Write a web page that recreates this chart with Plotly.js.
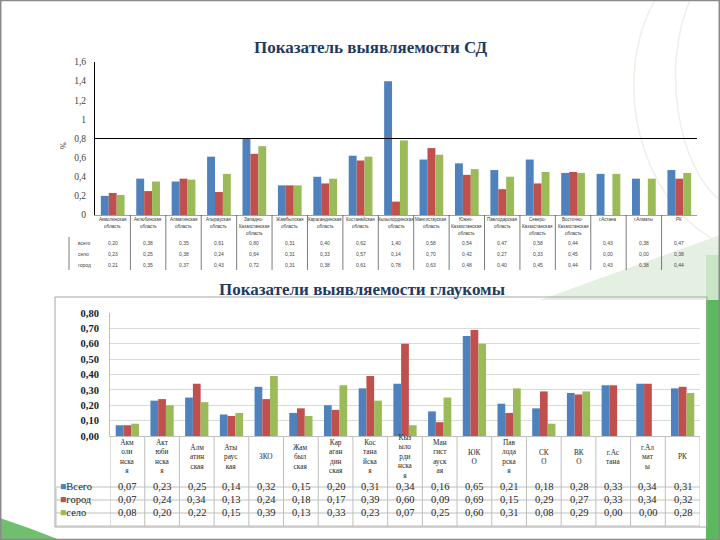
<!DOCTYPE html>
<html><head><meta charset="utf-8">
<script src="https://cdn.plot.ly/plotly-3.0.1.min.js"></script>
<style>html,body{margin:0;padding:0;background:#fff}#chart{width:720px;height:540px}</style>
</head><body><div id="chart"></div>
<script>
// ---------- Chart 1: Показатель выявляемости СД ----------
const sdTitle = 'Показатель выявляемости СД';
const sdCategories = ['Акмолинская область','Актюбинская область','Алматинская область','Атырауская область',
  'Западно-Казахстанская область','Жамбылская область','Карагандинская область','Костанайская область',
  'Кызылординская область','Мангистауская область','Южно-Казахстанская область','Павлодарская область',
  'Северо-Казахстанская область','Восточно-Казахстанская область','г.Астана','г.Алматы','РК'];
const sdLabelLines = [['Акмолинская','область'],['Актюбинская','область'],['Алматинская','область'],['Атырауская','область'],
  ['Западно-','Казахстанская','область'],['Жамбылская','область'],['Карагандинская','область'],['Костанайская','область'],
  ['Кызылординская','область'],['Мангистауская','область'],['Южно-','Казахстанская','область'],['Павлодарская','область'],
  ['Северо-','Казахстанская','область'],['Восточно-','Казахстанская','область'],['г.Астана'],['г.Алматы'],['РК']];
const sdSeriesNames = ['всего','село','город'];
const sdTotal   = [0.20,0.38,0.35,0.61,0.80,0.31,0.40,0.62,1.40,0.58,0.54,0.47,0.58,0.44,0.43,0.38,0.47];
const sdVillage = [0.23,0.25,0.38,0.24,0.64,0.31,0.33,0.57,0.14,0.70,0.42,0.27,0.33,0.45,0.00,0.00,0.38];
const sdCity    = [0.21,0.35,0.37,0.43,0.72,0.31,0.38,0.61,0.78,0.63,0.48,0.40,0.45,0.44,0.43,0.38,0.44];
const sdThreshold = 0.8;
const sdYTitle = '%';

// ---------- Chart 2: Показатели выявляемости глаукомы ----------
const glTitle = 'Показатели выявляемости глаукомы';
const glCategories = ['Акмолинская','Актюбинская','Алматинская','Атырауская','ЗКО','Жамбылская','Карагандинская',
  'Костанайская','Кызылординская','Мангистауская','ЮКО','Павлодарская','СКО','ВКО','г.Астана','г.Алматы','РК'];
const glLabelLines = [['Акм','оли','нска','я'],['Акт','юби','нска','я'],['Алм','атин','ская'],['Аты','раус','кая'],['ЗКО'],
  ['Жам','был','ская'],['Кар','аган','дин','ская'],['Кос','тана','йска','я'],['Кыз','ыло','рди','нска','я'],
  ['Ман','гист','ауск','ая'],['ЮК','О'],['Пав','лода','рска','я'],['СК','О'],['ВК','О'],['г.Ас','тана'],['г.Ал','мат','ы'],['РК']];
const glSeriesNames = ['Всего','город','село'];
const glTotal   = [0.07,0.23,0.25,0.14,0.32,0.15,0.20,0.31,0.34,0.16,0.65,0.21,0.18,0.28,0.33,0.34,0.31];
const glCity    = [0.07,0.24,0.34,0.13,0.24,0.18,0.17,0.39,0.60,0.09,0.69,0.15,0.29,0.27,0.33,0.34,0.32];
const glVillage = [0.08,0.20,0.22,0.15,0.39,0.13,0.33,0.23,0.07,0.25,0.60,0.31,0.08,0.29,0.00,0.00,0.28];

// ---------- styling ----------
const W = 720, H = 540;
const X = px => px / W;
const Y = py => 1 - py / H;
const SERIF = 'Liberation Serif, Times New Roman, serif';
const SANS = 'Liberation Sans, Arial, sans-serif';
const BLUE = '#4F81BD', RED = '#C0504D', GREEN = '#9BBB59';
const fmt = v => v.toFixed(2).replace('.', ',');

const traces = [];
const sdSeries = [sdTotal, sdVillage, sdCity];
const glSeries = [glTotal, glCity, glVillage];
const colors = [BLUE, RED, GREEN];
sdSeries.forEach((vals, i) => traces.push({
  type: 'bar', x: sdCategories, y: vals, name: sdSeriesNames[i], xaxis: 'x', yaxis: 'y',
  marker: {color: colors[i]}, hoverinfo: 'x+y+name'
}));
glSeries.forEach((vals, i) => traces.push({
  type: 'bar', x: glCategories, y: vals, name: glSeriesNames[i], xaxis: 'x2', yaxis: 'y2',
  marker: {color: colors[i]}, hoverinfo: 'x+y+name'
}));

const annotations = [];
const shapes = [];

// decorations
shapes.push({type:'path', xref:'paper', yref:'paper', layer:'below',
  path:`M ${X(540)} ${Y(300)} L ${X(720)} ${Y(235)} L ${X(720)} ${Y(300)} Z`, fillcolor:'#e4f1e2', line:{width:0}});
shapes.push({type:'rect', xref:'paper', yref:'paper', layer:'below', x0:X(706), x1:X(720), y0:Y(540), y1:Y(300),
  fillcolor:'#5cb85c', line:{width:0}});
shapes.push({type:'rect', xref:'paper', yref:'paper', layer:'below', x0:X(706), x1:X(720), y0:Y(300), y1:Y(255),
  fillcolor:'#c9e4c7', line:{width:0}});
shapes.push({type:'path', xref:'paper', yref:'paper', layer:'below',
  path:`M ${X(0)} ${Y(518)} Q ${X(30)} ${Y(528)} ${X(60)} ${Y(540)} L ${X(0)} ${Y(540)} Z`, fillcolor:'#6fbf6f', line:{width:0}});
shapes.push({type:'path', xref:'paper', yref:'paper', layer:'below',
  path:`M ${X(655)} ${Y(0)} C ${X(610)} ${Y(80)} ${X(640)} ${Y(200)} ${X(715)} ${Y(240)}`, line:{color:'#eef0e6', width:1.5}});
shapes.push({type:'path', xref:'paper', yref:'paper', layer:'below',
  path:`M ${X(690)} ${Y(0)} C ${X(660)} ${Y(70)} ${X(680)} ${Y(170)} ${X(720)} ${Y(200)}`, line:{color:'#eef0e6', width:1.5}});

// slide border
shapes.push({type:'rect', xref:'paper', yref:'paper', x0:0.001, x1:0.999, y0:0.001, y1:0.999, line:{color:'#8a8a8a', width:1.5}});

// titles
annotations.push({text:'<b>'+sdTitle+'</b>', xref:'paper', yref:'paper', x:X(371), y:Y(36), showarrow:false,
  font:{family:SERIF, size:17, color:'#1f3a60'}});
annotations.push({text:'<b>'+glTitle+'</b>', xref:'paper', yref:'paper', x:X(362), y:Y(289), showarrow:false,
  font:{family:SERIF, size:17, color:'#1f3a60'}});

// chart 1 extras
shapes.push({type:'line', xref:'x domain', yref:'y', x0:0, x1:1, y0:sdThreshold, y1:sdThreshold, line:{color:'#000', width:1}});
annotations.push({text:sdYTitle, xref:'paper', yref:'paper', x:X(57), y:Y(140), showarrow:false, textangle:-90,
  font:{family:SERIF, size:8, color:'#333'}});
sdCategories.forEach((c, i) => {
  sdLabelLines[i].forEach((ln, j) => annotations.push({text:ln, xref:'x', yref:'paper', x:c, y:Y(219.5 + j*7),
    showarrow:false, font:{family:SANS, size:4.5, color:'#333'}}));
  sdSeries.forEach((vals, k) => annotations.push({text:fmt(vals[i]), xref:'x', yref:'paper', x:c, y:Y(243 + k*11),
    showarrow:false, font:{family:SANS, size:5, color:'#444'}}));
  if (i < sdCategories.length - 1) shapes.push({type:'line', xref:'x', yref:'paper', x0:i+0.5, x1:i+0.5, y0:Y(215), y1:Y(270),
    line:{color:'#444', width:0.7}});
});
sdSeriesNames.forEach((n, k) => annotations.push({text:n, xref:'paper', yref:'paper', x:X(76), y:Y(243 + k*11), showarrow:false,
  font:{family:SANS, size:5, color:'#444'}}));
shapes.push({type:'line', xref:'paper', yref:'paper', x0:X(69), x1:X(69), y0:Y(237), y1:Y(270), line:{color:'#444', width:0.7}});

// chart 2 frame and table
shapes.push({type:'rect', xref:'paper', yref:'paper', x0:X(55), x1:X(707), y0:Y(527), y1:Y(297), line:{color:'#a6a6a6', width:1}});
const tblTop = 436, hdrBot = 487, rowB = [500, 513, 526];
const TG = '#bfbfbf';
for (let i = 0; i <= glCategories.length; i++) {
  shapes.push({type:'line', xref:'x2', yref:'paper', x0:i-0.5, x1:i-0.5, y0:Y(tblTop), y1:Y(rowB[2]), line:{color:TG, width:1}});
}
shapes.push({type:'line', xref:'paper', yref:'paper', x0:X(56), x1:X(56), y0:Y(hdrBot), y1:Y(rowB[2]), line:{color:TG, width:1}});
[hdrBot].concat(rowB).forEach(py => shapes.push({type:'line', xref:'paper', yref:'paper', x0:X(56), x1:X(700),
  y0:Y(py), y1:Y(py), line:{color:TG, width:1}}));
const hdrMid = 456.5;
glCategories.forEach((c, i) => {
  annotations.push({text:glLabelLines[i].join('<br>'), xref:'x2', yref:'paper', x:c, y:Y(hdrMid), yanchor:'middle',
    showarrow:false, font:{family:SERIF, size:7.3, color:'#262626'}});
  glSeries.forEach((vals, k) => {
    const top = k === 0 ? hdrBot : rowB[k-1];
    annotations.push({text:fmt(vals[i]), xref:'x2', yref:'paper', x:c, y:Y((top + rowB[k]) / 2), showarrow:false,
      font:{family:SERIF, size:10.5, color:'#262626'}});
  });
});
glSeriesNames.forEach((n, k) => {
  const top = k === 0 ? hdrBot : rowB[k-1];
  annotations.push({text:`<span style="color:${colors[k]}">■</span>${n}`, xref:'paper', yref:'paper', x:X(58),
    xanchor:'left', y:Y((top + rowB[k]) / 2), showarrow:false, font:{family:SERIF, size:10.5, color:'#262626'}});
});

const layout = {
  width: W, height: H, margin: {l:0, r:0, t:0, b:0},
  paper_bgcolor: '#fff', plot_bgcolor: 'rgba(0,0,0,0)',
  showlegend: false, barmode: 'group', bargap: 0.33, bargroupgap: 0,
  separators: ', ',
  font: {family: SERIF},
  xaxis: {domain:[X(95), X(697)], type:'category', range:[-0.5, 16.5], showticklabels:false, ticks:'',
    showgrid:false, zeroline:false, showline:true, linecolor:'#777', linewidth:0.7, fixedrange:true},
  yaxis: {domain:[Y(215), Y(62)], range:[0, 1.6], dtick:0.2, showgrid:false, zeroline:false,
    showline:true, linecolor:'#000', linewidth:1, ticks:'outside', ticklen:6, tickcolor:'rgba(0,0,0,0)',
    tickfont:{family:SERIF, size:9.5, color:'#404040'}, fixedrange:true},
  xaxis2: {domain:[X(110), X(700)], anchor:'y2', type:'category', range:[-0.5, 16.5], showticklabels:false,
    ticks:'', showgrid:false, zeroline:false, showline:true, linecolor:TG, fixedrange:true},
  yaxis2: {domain:[Y(436), Y(313)], anchor:'x2', range:[0, 0.8], dtick:0.1, tickformat:'.2f',
    showgrid:true, gridcolor:'#d9d9d9', zeroline:false, showline:true, linecolor:TG,
    ticks:'outside', ticklen:8, tickcolor:'rgba(0,0,0,0)',
    tickfont:{family:SERIF, size:10.5, color:'#222', weight:'bold'}, fixedrange:true},
  shapes: shapes, annotations: annotations
};
Plotly.newPlot('chart', traces, layout, {displayModeBar:false, staticPlot:true});
</script></body></html>
